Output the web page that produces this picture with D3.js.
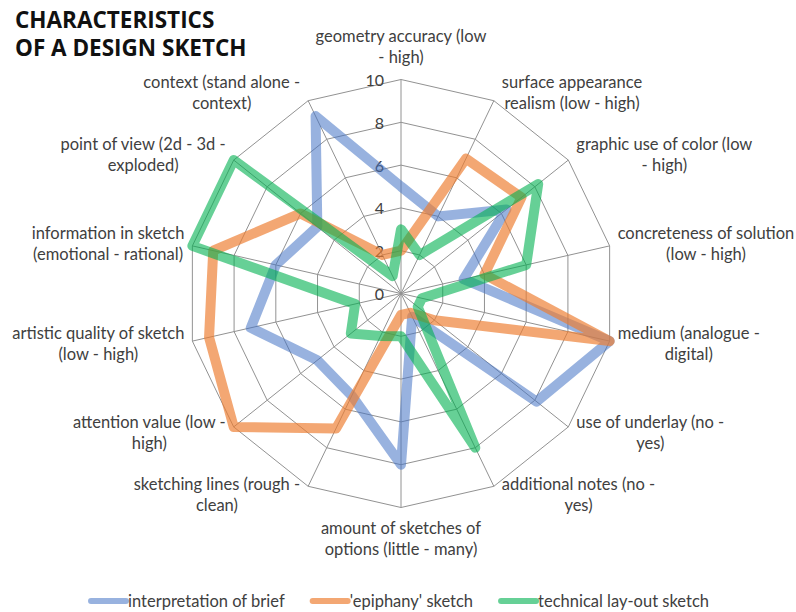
<!DOCTYPE html>
<html>
<head>
<meta charset="utf-8">
<script src="https://cdn.jsdelivr.net/npm/d3@7"></script>
<style>
  html, body { margin: 0; padding: 0; background: #ffffff; }
  svg { display: block; }
</style>
</head>
<body>
<svg id="chart" width="796" height="612"></svg>
<script>
// ---------------- data ----------------
const titleLines = ["CHARACTERISTICS", "OF A DESIGN SKETCH"];
const categories = [
  "geometry accuracy (low\n- high)",
  "surface appearance\nrealism (low - high)",
  "graphic use of color (low\n- high)",
  "concreteness of solution\n(low - high)",
  "medium (analogue -\ndigital)",
  "use of underlay (no -\nyes)",
  "additional notes (no -\nyes)",
  "amount of sketches of\noptions (little - many)",
  "sketching lines (rough -\nclean)",
  "attention value (low -\nhigh)",
  "artistic quality of sketch\n(low - high)",
  "information in sketch\n(emotional - rational)",
  "point of view (2d - 3d -\nexploded)",
  "context (stand alone -\ncontext)"
];
const seriesNames = ["interpretation of brief", "'epiphany' sketch", "technical lay-out sketch"];
const interpretationOfBrief = [5, 4, 6.3, 3, 10, 8.1, 1.2, 8, 5.3, 5, 7.2, 6, 5, 9.2];
const epiphanySketch        = [2, 7, 7.2, 4, 10, 2, 1, 1, 7, 10, 9.2, 9, 6, 2];
const technicalLayoutSketch = [3, 2, 8.2, 6, 1, 1, 8, 2, 2.2, 3, 2.2, 10, 10, 0.9];
const tickValues = [0, 2, 4, 6, 8, 10];
const seriesColors = ["#4472C4", "#ED7D31", "#00B050"];
const seriesOpacity = [0.55, 0.68, 0.6];

// ---------------- layout ----------------
const svg = d3.select("#chart");
const cx = 401, cy = 293.5, R = 214;
const n = categories.length;
const FONT = "Lato, 'Open Sans', 'DejaVu Sans', sans-serif";
const FS = 16.5;

const r = d3.scaleLinear().domain([0, 10]).range([0, R]);
const angle = d3.scaleLinear().domain([0, n]).range([0, 2 * Math.PI]);
const px = (i, v) => cx + r(v) * Math.sin(angle(i));
const py = (i, v) => cy - r(v) * Math.cos(angle(i));

// title
svg.append("g").selectAll("text").data(titleLines).join("text")
  .attr("x", 15).attr("y", (d, i) => 28 + i * 28)
  .attr("font-family", "'Open Sans', 'DejaVu Sans', sans-serif")
  .attr("font-weight", 700).attr("font-size", 22.5)
  .attr("fill", "#111").text(d => d);

// grid
const grid = svg.append("g").attr("stroke", "#929292").attr("stroke-width", 1).attr("fill", "none");
const idx = d3.range(n);
grid.selectAll("path.ring").data(tickValues.filter(t => t > 0)).join("path")
  .attr("class", "ring")
  .attr("d", t => d3.line()(idx.map(i => [px(i, t), py(i, t)])) + "Z");
grid.selectAll("line.spoke").data(idx).join("line")
  .attr("class", "spoke")
  .attr("x1", cx).attr("y1", cy)
  .attr("x2", i => px(i, 10)).attr("y2", i => py(i, 10));

// tick labels
svg.append("g").selectAll("text").data(tickValues).join("text")
  .attr("x", cx - 17).attr("y", t => py(0, t))
  .attr("text-anchor", "end").attr("dominant-baseline", "central")
  .attr("font-family", FONT).attr("font-size", 16).attr("fill", "#404040")
  .text(t => t);

// series
const allSeries = [interpretationOfBrief, epiphanySketch, technicalLayoutSketch];
const lineGen = d3.line().x(d => d[0]).y(d => d[1]);
svg.append("g").selectAll("path").data(allSeries).join("path")
  .attr("d", vals => lineGen(vals.map((v, i) => [px(i, v), py(i, v)])) + "Z")
  .attr("fill", "none")
  .attr("stroke", (d, i) => seriesColors[i])
  .attr("stroke-opacity", (d, i) => seriesOpacity[i])
  .attr("stroke-width", 10)
  .attr("stroke-linejoin", "round");

// category labels
const LH = 21;
const labG = svg.append("g");
categories.forEach((c, i) => {
  const lines = c.split("\n");
  const t = labG.append("text")
    .attr("font-family", FONT).attr("font-size", FS).attr("fill", "#404040")
    .attr("text-anchor", "middle").attr("dominant-baseline", "central");
  const tsp = lines.map(l => t.append("tspan").text(l));
  const w = d3.max(tsp, s => s.node().getComputedTextLength());
  const a = angle(i), s = Math.sin(a), co = Math.cos(a);
  const vx = px(i, 10), vy = py(i, 10);
  let xm, ym;
  const half = lines.length * LH / 2;
  if (Math.abs(s) < 0.01) {
    xm = vx;
    ym = co > 0 ? vy - half - 12 : vy + half + 10;
  } else {
    xm = s > 0 ? vx + 8 + w / 2 : vx - 8 - w / 2;
    ym = vy - 9 * co;
  }
  tsp.forEach((sp, k) => sp.attr("x", xm).attr("y", ym - half + LH / 2 + k * LH));
});

// legend
const leg = svg.append("g");
const legY = 601;
let lx = 0;
seriesNames.forEach((name, i) => {
  const g = leg.append("g");
  g.append("line").attr("x1", lx).attr("x2", lx + 35).attr("y1", legY).attr("y2", legY)
    .attr("stroke", seriesColors[i]).attr("stroke-opacity", seriesOpacity[i])
    .attr("stroke-width", 6).attr("stroke-linecap", "round");
  const tx = g.append("text").attr("x", lx + 37).attr("y", legY)
    .attr("dominant-baseline", "central")
    .attr("font-family", FONT).attr("font-size", FS).attr("fill", "#404040")
    .text(name);
  lx += 37 + tx.node().getComputedTextLength() + 28;
});
const totalW = lx - 28;
leg.attr("transform", `translate(${400 - totalW / 2},0)`);
</script>
</body>
</html>
